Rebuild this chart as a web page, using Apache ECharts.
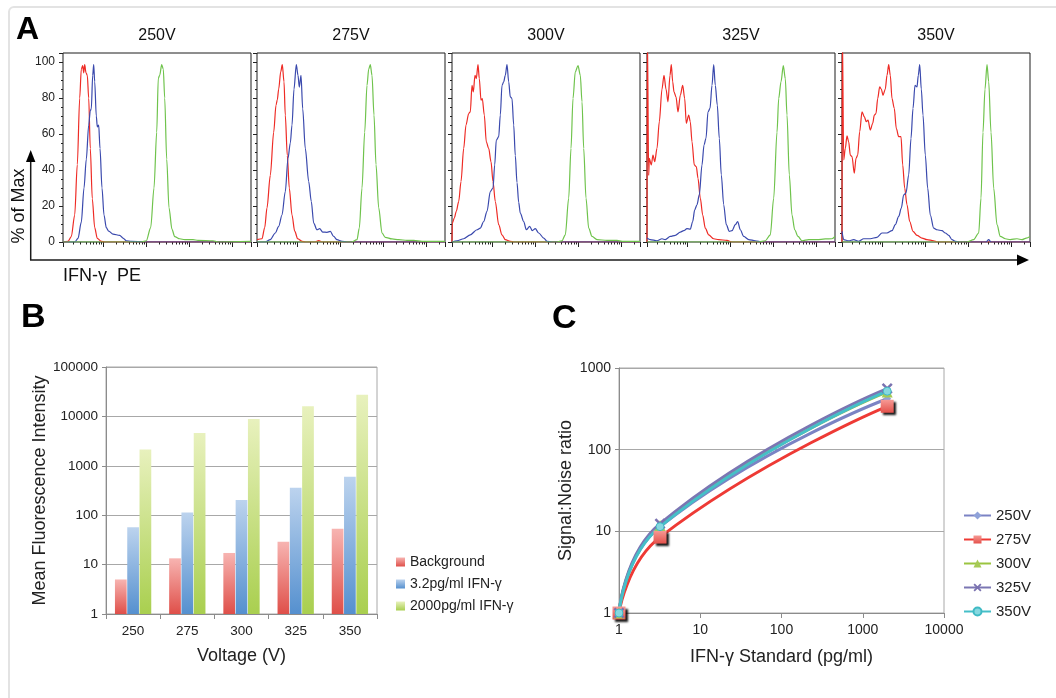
<!DOCTYPE html>
<html><head><meta charset="utf-8">
<script src="https://cdn.jsdelivr.net/npm/echarts@6/dist/echarts.min.js"></script>
<style>html,body{margin:0;padding:0;background:#fff}#c{width:1056px;height:698px}</style>
</head><body><div id="c"></div>
<script>
// ---------- Panel A: histograms (x = fluorescence channel, y = % of max) ----------
const panelVoltages = ['250V','275V','300V','325V','350V'];
const h250r = [[0,0],[5,0.4],[8.3,3],[11.7,15],[14.3,43],[16.7,80],[18.3,96],[19.7,98],[20.7,94],[21.7,98.5],[23,94],[24.3,92.6],[25.7,80],[27.3,52],[29.3,24],[31.7,8],[34.3,2],[38.3,0.4],[41.7,0],[188,0]];
const h250b = [[0,0],[11.7,0],[15,2],[18.3,11],[21,30],[23.3,46],[25.7,65],[27.3,73],[28.3,74],[29.7,92.6],[30.7,98.5],[31.7,89],[33.3,70],[34.3,64],[35.7,65],[37,52],[39,30],[41,15],[43.3,8],[45.7,6],[50,4.4],[56.7,3.7],[60,2.2],[63.3,0.7],[68.3,0.4],[81.7,0],[188,0]];
const h250g = [[0,0],[78.3,0],[83.3,0.7],[87.7,8],[91,30],[93.7,61],[95.3,91],[96.7,92.6],[98.7,98.5],[100.3,96],[101.7,80],[103.7,46],[106,19],[109,7],[111.7,3],[116.7,1.8],[121.7,1.3],[130,1.3],[135,0.9],[150,0.7],[155,0],[188,0.3]];
const h275r = [[0,1.3],[5,1.8],[7.7,8],[10,19],[13.3,37],[16.7,61],[19,76],[20.3,79],[21.7,85],[23.7,94.5],[25.3,98.5],[27,89],[28.3,70.5],[30.3,48],[32.3,30],[35,15],[37.7,6],[40.7,1.8],[45,0.4],[48.3,0],[58,0],[61.7,0.8],[65,0],[188,0]];
const h275b = [[0,0],[8.3,0],[13.3,1.3],[18.3,5],[21.7,8.7],[25,15],[28.3,28],[31,46.5],[33.3,55],[35,65],[37,85],[39.3,98.5],[41,92.6],[42.3,86],[44,92.6],[45.7,74],[48.3,52],[51.7,33.6],[54.3,22.5],[56.7,10.5],[60,6.8],[62.7,7.4],[65.7,5.5],[70,5.4],[73.3,5.9],[76.7,3.1],[80,1.3],[85,0.4],[90,0],[188,0]];
const h275g = [[0,0],[95,0],[100,1.3],[102.3,7.7],[105,30],[107.7,61],[110,87],[111.7,96],[113.3,98.5],[115,92.6],[117,70.5],[119,43],[121.7,19],[125,5],[128.3,2.6],[135,1.7],[141.7,1.3],[150,0.9],[156.7,0.9],[165,0.4],[188,0.4]];
const h300r = [[0,0],[0.3,10.5],[2.3,13.3],[4.3,17],[6.7,22.5],[9,33.6],[11.7,52],[14,65],[16.7,71.4],[18.3,72.3],[20,87],[21.3,83.4],[23,92.6],[24.3,90.8],[26,98.5],[27.3,90.8],[29,78.8],[30.3,79.7],[32.3,70.5],[34.3,55.7],[36.7,52],[39,44.6],[41,33.6],[43.3,22.5],[46.7,9.6],[50,4],[53.3,1.3],[58.3,0.4],[61.7,0],[188,0]];
const h300b = [[0,0],[5,0.7],[11.7,1.8],[18.3,4],[25,6.8],[28.3,7.7],[31.7,11.4],[35,17],[38.3,28],[41,30],[42.7,42.8],[44.3,56.6],[46.7,58.5],[48.3,70.5],[50,87],[51.7,89],[53.3,92.6],[55,98.5],[56.7,89],[58.3,80.6],[60,79.7],[61.7,65],[63.3,48],[65,33],[66.7,22],[68.3,16],[71.7,11.4],[74.3,6.8],[77.7,8.7],[80.3,6.3],[83.3,7.4],[86.7,5],[91.7,2.2],[95,0.4],[100,0],[188,0]];
const h300g = [[0,0],[105,0],[110,0.7],[113.3,4],[116.7,24.4],[119,52],[121,79.7],[123.3,94.5],[126,98],[128.3,92.6],[130,77.9],[131.7,52],[134,24.4],[136.7,7.7],[140,3.1],[145,1.3],[155,0.9],[165,0.9],[170,0.4],[188,0.4]];
const h325r = [[0,0],[0.3,120],[1.7,37],[2.3,46.5],[4.3,42.8],[6,48.3],[7.7,44.6],[10,52],[12.3,66.8],[15,85],[17,92.6],[19,85],[21,77.9],[23,92.6],[24.3,98.5],[25.7,89],[27,83.4],[29,80.6],[31,72.3],[33.3,81.5],[35.7,87],[37.7,79.7],[39.3,65.9],[41.7,70.5],[43.3,66.8],[45,55.7],[47.3,42.8],[49.3,41.9],[51,35.4],[53.3,24.4],[55.7,15],[58.3,7.7],[61.7,4],[66.7,1.8],[71.7,1.3],[80,0.9],[85,0],[188,0]];
const h325b = [[0,2.2],[3.3,1.3],[10,0.7],[15,1.8],[18.3,1.3],[23.3,3.1],[28.3,3.7],[33.3,5.5],[36.7,6.3],[40,7.4],[43.3,7.2],[45.7,11.4],[47.7,17.9],[50,20.7],[52.3,26.2],[55,42.8],[57,53.9],[59,57.6],[61,72.3],[63,74.2],[65,87],[66.7,98.5],[68.3,87],[70.3,76],[72.3,57.6],[74.3,37.3],[76.7,20.7],[79.3,9.6],[82.3,5.9],[85,6.3],[88.3,9.6],[90.7,11.4],[93.3,6.8],[96.7,3.1],[101.7,1.3],[108.3,0.7],[115,0],[188,0]];
const h325g = [[0,0],[111.7,0],[118.3,0.7],[123.3,4],[126.7,24.4],[130,61],[131.7,79.7],[134,89],[136.3,98],[138.3,90.8],[140,70.5],[142.3,37.3],[145,15],[147.7,6.8],[151,3.1],[155,0.7],[161.7,1.3],[170,1.3],[178.3,1.7],[185,1.8],[188,3.1]];
const h350r = [[0,0],[0.3,120],[1.7,45.6],[3.3,52],[5,59],[6.7,55.7],[8.3,48.3],[10,47.4],[12.3,38.2],[14,46.5],[15.7,48.3],[17.7,61.3],[20,72.3],[22.3,69.6],[24.3,66.8],[26,67.7],[28.3,62.2],[30.7,65.9],[32.3,70.5],[34,71.4],[35.7,79.7],[37.7,86.2],[39.3,85],[41,81.5],[43.3,85],[45,92.6],[46.7,98.5],[48.3,92.6],[50,79.7],[52.3,74.2],[54.3,63.1],[56.7,58.5],[59,58.5],[60.7,42.8],[62.7,29.9],[65,20.7],[67.7,11.4],[71,5.9],[75,3.7],[80,2.2],[85,1.3],[91.7,0.7],[95,0],[188,0]];
const h350b = [[0,5.9],[1.7,1.3],[6.7,0.7],[11.7,1.3],[16.7,0.4],[21.7,1.8],[28.3,1.8],[35,2.6],[40,5],[45,5],[50,6.3],[53.3,9.6],[56.7,14.2],[59.3,18.8],[61.7,26.2],[64,27.1],[66.7,37.3],[69,57.6],[71,74.2],[73,87],[75,86.2],[76.3,92.6],[77.7,98.5],[79.3,85],[81,70.5],[83.3,48.3],[85.7,29.9],[88.3,15],[91.7,7.7],[95,6.8],[100,6.3],[103.3,5],[106.7,3.7],[110,1.3],[113.3,0.4],[116.7,0],[144,0],[146.7,1.3],[149,0],[188,0]];
const h350g = [[0,0],[125,0],[131.7,1.3],[136.7,5],[139,24.4],[141,61],[143,85],[145,98.5],[146.7,89],[149,61],[151.7,29.9],[155,9.6],[158.3,3.1],[163.3,1.8],[168.3,1.3],[175,1.8],[180,1.3],[184.3,2.2],[188,3.1]];
const histTicksY = [0, 20, 40, 60, 80, 100];

// ---------- Panel B: mean fluorescence intensity ----------
const voltageCats = ['250','275','300','325','350'];
const mfiBackground = [5, 13.4, 17.2, 29, 53];
const mfiLow = [57, 114, 203, 360, 602];
const mfiHigh = [2150, 4600, 8850, 16000, 27500];

// ---------- Panel C: signal:noise ratio ----------
const stdConc = [1, 3.2, 2000];
const sn250 = [1, 11.4, 420];
const sn275 = [1, 8.5, 340];
const sn300 = [1, 11.8, 510];
const sn325 = [1, 12.4, 560];
const sn350 = [1, 11.4, 520];

const FONT = '"Liberation Sans", Arial, Helvetica, sans-serif';
const chart = echarts.init(document.getElementById('c'), null, {renderer: 'canvas'});
const G = echarts.graphic;
const plain = v => String(Math.round(v));

const histSets = [[h250r,h250b,h250g],[h275r,h275b,h275g],[h300r,h300b,h300g],[h325r,h325b,h325g],[h350r,h350b,h350g]];
const histNames = ['Background','3.2pg/ml','2000pg/ml'];
const histColors = ['#ee2b25','#3a49ad','#6fc34c'];
const panelLefts = [63, 257, 452, 647, 842];

const grids = [], xAxes = [], yAxes = [], series = [], graphics = [];

panelLefts.forEach((l, i) => {
  grids.push({left: l, top: 53, width: 188, height: 189, show: true, borderColor: '#1c1c1c', borderWidth: 1, containLabel: false});
  xAxes.push({type: 'value', gridIndex: i, min: 0, max: 188, axisLine: {show: false}, axisTick: {show: false}, axisLabel: {show: false}, splitLine: {show: false}});
  yAxes.push({type: 'value', gridIndex: i, min: 0, max: 105, interval: 20,
    axisLine: {show: false},
    axisTick: {show: true, length: 4, lineStyle: {color: '#222'}},
    minorTick: {show: true, splitNumber: 4, length: 2, lineStyle: {color: '#222'}},
    axisLabel: {show: i === 0, fontSize: 12, color: '#222', margin: 8, fontFamily: FONT,
      formatter: v => histTicksY.indexOf(v) >= 0 ? String(v) : ''},
    splitLine: {show: false}});
  graphics.push({type: 'text', x: l + 94, y: 36, silent: true,
    style: {text: panelVoltages[i], font: '16px ' + FONT, fill: '#111', align: 'center', verticalAlign: 'middle'}});
});
panelLefts.forEach((l, i) => {
  xAxes.push({type: 'log', gridIndex: i, min: 11.7, max: 276000, position: 'bottom',
    axisLine: {show: false}, axisLabel: {show: false}, splitLine: {show: false},
    axisTick: {show: true, length: 5, lineStyle: {color: '#222'}},
    minorTick: {show: true, splitNumber: 9, length: 2.5, lineStyle: {color: '#222'}}});
});
histSets.forEach((set, i) => {
  set.forEach((d, k) => {
    series.push({type: 'line', name: panelVoltages[i] + ' ' + histNames[k], xAxisIndex: i, yAxisIndex: i,
      data: d, symbol: 'none', showSymbol: false, smooth: 0.3, smoothMonotone: 'x', clip: true, silent: true,
      lineStyle: {width: 1.2, color: histColors[k]}, itemStyle: {color: histColors[k]}});
  });
});

// Panel B
grids.push({left: 106, top: 367, width: 271, height: 247, show: true, borderColor: '#a8a8a8', borderWidth: 1});
xAxes.push({type: 'category', gridIndex: 5, data: voltageCats,
  axisLine: {lineStyle: {color: '#8c8c8c'}}, axisTick: {show: true, length: 5, lineStyle: {color: '#8c8c8c'}},
  axisLabel: {fontSize: 13.5, color: '#222', margin: 10, fontFamily: FONT},
  name: 'Voltage (V)', nameLocation: 'middle', nameGap: 33, nameTextStyle: {fontSize: 18, color: '#222', fontFamily: FONT}});
yAxes.push({type: 'log', gridIndex: 5, min: 1, max: 100000, logBase: 10,
  axisLine: {show: true, lineStyle: {color: '#8c8c8c'}}, axisTick: {show: true, length: 4, lineStyle: {color: '#8c8c8c'}},
  axisLabel: {fontSize: 13.5, color: '#222', margin: 8, fontFamily: FONT, formatter: plain},
  splitLine: {show: true, lineStyle: {color: '#a8a8a8', width: 1}},
  name: 'Mean Fluorescence Intensity', nameLocation: 'middle', nameGap: 57, nameTextStyle: {fontSize: 18, color: '#222', fontFamily: FONT}});
const grad = (a, b) => new G.LinearGradient(0, 0, 0, 1, [{offset: 0, color: a}, {offset: 1, color: b}]);
const barDefs = [
  ['Background', mfiBackground, '#f7b4b1', '#df4f49'],
  ['3.2pg/ml IFN-γ', mfiLow, '#bcd3ee', '#5590cf'],
  ['2000pg/ml IFN-γ', mfiHigh, '#e8f1bd', '#a9cf4f']
];
barDefs.forEach(([name, vals, c1, c2]) => {
  series.push({type: 'bar', name, xAxisIndex: 10, yAxisIndex: 5, data: vals,
    barCategoryGap: '33%', barGap: '5%', itemStyle: {color: grad(c1, c2)}, silent: true});
});

// Panel C
grids.push({left: 619, top: 368, width: 325, height: 245, show: true, borderColor: '#a8a8a8', borderWidth: 1});
xAxes.push({type: 'log', gridIndex: 6, min: 1, max: 10000, logBase: 10,
  axisLine: {lineStyle: {color: '#8c8c8c'}}, axisTick: {show: true, length: 5, lineStyle: {color: '#8c8c8c'}},
  axisLabel: {fontSize: 14, color: '#222', margin: 10, fontFamily: FONT, formatter: plain}, splitLine: {show: false},
  name: 'IFN-γ Standard (pg/ml)', nameLocation: 'middle', nameGap: 35, nameTextStyle: {fontSize: 18, color: '#222', fontFamily: FONT}});
yAxes.push({type: 'log', gridIndex: 6, min: 1, max: 1000, logBase: 10,
  axisLine: {show: true, lineStyle: {color: '#8c8c8c'}}, axisTick: {show: true, length: 4, lineStyle: {color: '#8c8c8c'}},
  axisLabel: {fontSize: 14, color: '#222', margin: 8, fontFamily: FONT, formatter: plain},
  splitLine: {show: true, lineStyle: {color: '#a8a8a8', width: 1}},
  name: 'Signal:Noise ratio', nameLocation: 'middle', nameGap: 44, nameTextStyle: {fontSize: 18, color: '#222', fontFamily: FONT}});
const xPath = 'path://M1.6,0L5,3.4L8.4,0L10,1.6L6.6,5L10,8.4L8.4,10L5,6.6L1.6,10L0,8.4L3.4,5L0,1.6Z';
const snDefs = [
  ['250V', sn250, 'diamond', 8, '#8fa2d9', '#7b83c4', {}],
  ['275V', sn275, 'rect', 13, grad('#f69a95', '#e4514b'), '#ee3a35', {shadowColor: 'rgba(0,0,0,0.9)', shadowBlur: 2, shadowOffsetX: 2, shadowOffsetY: 2}],
  ['300V', sn300, 'triangle', 11, '#a6ca55', '#9bc440', {}],
  ['325V', sn325, xPath, 11, '#7a72b0', '#7b76b3', {}],
  ['350V', sn350, 'circle', 8, '#86d8e0', '#45bfc8', {borderColor: '#3fbac4', borderWidth: 1}]
];
snDefs.forEach(([name, vals, sym, size, fill, lineColor, extra]) => {
  series.push({type: 'line', name, xAxisIndex: 11, yAxisIndex: 6,
    data: stdConc.map((x, j) => [x, vals[j]]), smooth: 0.5, symbol: sym, symbolSize: size, showSymbol: true,
    lineStyle: {width: 3, color: lineColor}, itemStyle: Object.assign({color: fill}, extra), silent: true});
});

// Decorations: frame, panel letters, flow axes arrows
graphics.push(
  {type: 'rect', silent: true, shape: {x: 9, y: 7, width: 1120, height: 760, r: 5}, style: {fill: 'none', stroke: '#e3e3e3', lineWidth: 2}},
  {type: 'text', silent: true, x: 16, y: 30, style: {text: 'A', font: 'bold 32px ' + FONT, fill: '#000', verticalAlign: 'middle'}},
  {type: 'text', silent: true, x: 21, y: 318, style: {text: 'B', font: 'bold 34px ' + FONT, fill: '#000', verticalAlign: 'middle'}},
  {type: 'text', silent: true, x: 552, y: 319, style: {text: 'C', font: 'bold 34px ' + FONT, fill: '#000', verticalAlign: 'middle'}},
  {type: 'line', silent: true, shape: {x1: 30.7, y1: 260, x2: 30.7, y2: 160}, style: {stroke: '#1a1a1a', lineWidth: 1.5}},
  {type: 'polygon', silent: true, shape: {points: [[30.7, 150], [26, 162], [35.4, 162]]}, style: {fill: '#000'}},
  {type: 'line', silent: true, shape: {x1: 30, y1: 260, x2: 1018, y2: 260}, style: {stroke: '#1a1a1a', lineWidth: 1.5}},
  {type: 'polygon', silent: true, shape: {points: [[1029, 260], [1017, 254.5], [1017, 265.5]]}, style: {fill: '#000'}},
  {type: 'text', silent: true, x: 19, y: 206, rotation: Math.PI / 2, style: {text: '% of Max', font: '18px ' + FONT, fill: '#111', align: 'center', verticalAlign: 'middle'}},
  {type: 'text', silent: true, x: 63, y: 276, style: {text: 'IFN-γ  PE', font: '18px ' + FONT, fill: '#111', verticalAlign: 'middle'}}
);

chart.setOption({
  animation: false,
  backgroundColor: '#ffffff',
  textStyle: {fontFamily: FONT},
  grid: grids, xAxis: xAxes, yAxis: yAxes, series,
  legend: [
    {data: barDefs.map(d => d[0]), orient: 'vertical', left: 391, top: 550, icon: 'rect', itemWidth: 9, itemHeight: 9, itemGap: 8,
      selectedMode: false, textStyle: {fontSize: 14, color: '#222', fontFamily: FONT}},
    {data: snDefs.map(d => ({name: d[0], itemStyle: {shadowBlur: 0, shadowOffsetX: 0, shadowOffsetY: 0, shadowColor: 'rgba(0,0,0,0)'}})),
      orient: 'vertical', left: 958, top: 503, itemWidth: 27, itemHeight: 10, itemGap: 9,
      selectedMode: false, textStyle: {fontSize: 15, color: '#222', fontFamily: FONT}}
  ],
  graphic: graphics
});
</script></body></html>
